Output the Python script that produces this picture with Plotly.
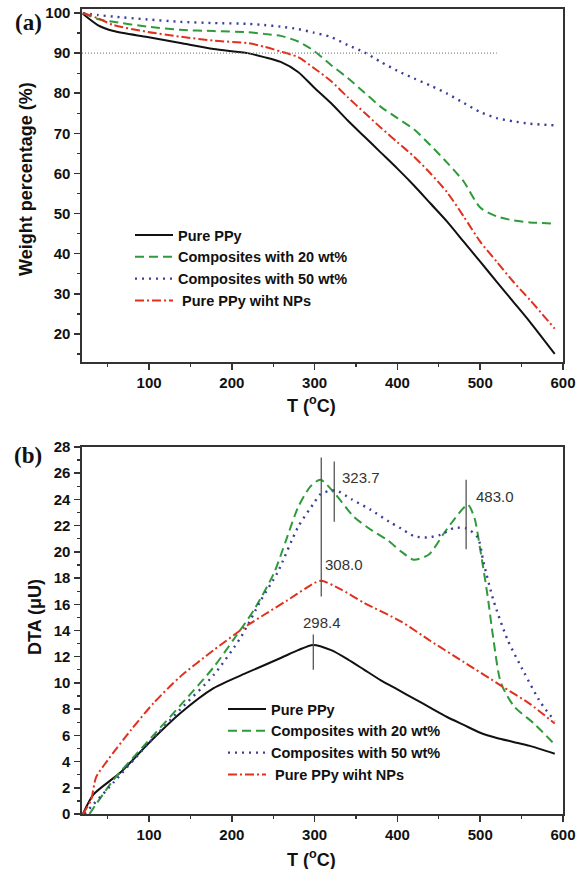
import plotly.graph_objects as go

# ---------------- data: (a) TGA ----------------
T_tga = [20, 38, 57, 98, 138, 178, 219, 239, 259, 280, 299, 320, 340, 360, 380,
         400, 420, 440, 460, 480, 500, 520, 540, 560, 590]
tga_pure = [99.8, 97.0, 95.5, 94.0, 92.5, 91.0, 90.0, 89.0, 87.8, 85.3, 81.5, 77.5,
            73.2, 69.2, 65.2, 61.2, 57.0, 52.5, 48.0, 43.0, 38.0, 33.0, 28.0, 23.0, 15.0]
tga_c20 = [100.0, 98.5, 97.8, 96.6, 95.8, 95.5, 95.2, 94.8, 94.3, 92.9, 90.6, 87.0,
           83.8, 80.2, 76.6, 73.8, 71.0, 67.0, 62.7, 58.0, 51.5, 49.3, 48.3, 47.8, 47.5]
tga_c50 = [100.0, 99.5, 99.1, 98.4, 97.8, 97.5, 97.3, 97.0, 96.6, 96.0, 95.1, 94.0,
           92.0, 90.2, 87.8, 85.6, 83.7, 81.9, 79.9, 77.6, 75.3, 73.8, 73.0, 72.4, 72.0]
tga_nps = [100.0, 98.7, 97.0, 95.3, 94.1, 93.1, 92.5, 91.6, 90.4, 89.0, 86.3, 83.0,
           79.0, 75.2, 71.4, 67.8, 64.2, 60.0, 55.3, 49.3, 43.0, 38.0, 33.0, 28.5, 21.3]
ref_level = 90
ref_end_T = 520

# ---------------- data: (b) DTA ----------------
T_pure = [20, 33, 66, 98, 138, 178, 219, 259, 280, 298, 320, 340, 360, 380, 400,
          420, 440, 460, 480, 500, 520, 540, 560, 590]
dta_pure = [0.0, 1.5, 3.2, 5.3, 7.7, 9.6, 10.8, 11.9, 12.5, 12.9, 12.5, 11.8, 11.0,
            10.2, 9.5, 8.8, 8.1, 7.4, 6.8, 6.2, 5.8, 5.5, 5.2, 4.6]
T_c20 = [28, 57, 98, 138, 178, 202, 227, 251, 265, 280, 295, 307, 325, 347, 370, 388,
         405, 420, 438, 456, 470, 485, 493, 500, 509, 516, 525, 541, 565, 590]
dta_c20 = [0.0, 2.6, 5.5, 8.3, 11.2, 13.3, 15.6, 18.4, 20.8, 23.4, 25.0, 25.5, 24.4,
           22.7, 21.6, 20.9, 20.0, 19.4, 19.8, 21.4, 22.6, 23.6, 22.6, 20.2, 16.6,
           13.3, 10.0, 8.2, 6.9, 5.3]
T_c50 = [22, 57, 98, 138, 178, 211, 235, 255, 280, 300, 307, 325, 345, 368, 390, 404,
         420, 436, 452, 468, 483, 497, 504, 516, 533, 553, 573, 590]
dta_c50 = [0.0, 2.4, 5.3, 8.0, 10.6, 13.5, 16.3, 18.4, 21.9, 23.8, 24.4, 24.7, 24.0,
           23.2, 22.3, 21.8, 21.2, 21.1, 21.3, 21.8, 21.8, 21.1, 19.2, 16.3, 13.3,
           10.8, 8.5, 7.1]
T_nps = [20, 30, 36, 50, 78, 106, 138, 178, 219, 239, 267, 299, 308, 330, 360, 404,
         440, 480, 525, 560, 590]
dta_nps = [0.0, 1.1, 2.8, 4.1, 6.4, 8.5, 10.5, 12.5, 14.4, 15.2, 16.3, 17.6, 17.8,
           17.2, 16.1, 14.7, 13.2, 11.6, 9.8, 8.4, 6.9]

# peak markers: temperature, line bottom, line top, label y
peak_T = [308.0, 323.7, 483.0, 298.4]
peak_labels = ["308.0", "323.7", "483.0", "298.4"]
peak_lo = [16.6, 22.3, 20.2, 11.0]
peak_hi = [27.2, 26.9, 25.5, 13.7]
peak_text_y = [19.0, 25.7, 24.2, 14.6]

names = ["Pure PPy", "Composites with 20 wt%", "Composites with 50 wt%",
         "\u00a0Pure PPy wiht NPs"]

# ---------------- styles ----------------
FONT = "Liberation Sans, Arial, sans-serif"
AX = "#333333"
styles = [
    dict(color="#111111", width=2.0, dash="solid"),
    dict(color="#2e9a3a", width=2.0, dash="9px,5px"),
    dict(color="#3b3d99", width=2.4, dash="2px,5px"),
    dict(color="#e0301e", width=2.0, dash="9px,3px,2px,3px"),
]

fig = go.Figure()

tga = [tga_pure, tga_c20, tga_c50, tga_nps]
for name, ys, st in zip(names, tga, styles):
    fig.add_trace(go.Scatter(x=T_tga, y=ys, mode="lines", name=name,
                             line=dict(shape="spline", smoothing=0.7, **st),
                             xaxis="x", yaxis="y", legend="legend"))

dta = [(T_pure, dta_pure), (T_c20, dta_c20), (T_c50, dta_c50), (T_nps, dta_nps)]
for name, (xs, ys), st in zip(names, dta, styles):
    fig.add_trace(go.Scatter(x=xs, y=ys, mode="lines", name=name,
                             line=dict(shape="spline", smoothing=0.7, **st),
                             xaxis="x2", yaxis="y2", legend="legend2"))

xdom = [82 / 585, 563 / 585]
top_dom = [1 - 362 / 869, 1 - 9 / 869]
bot_dom = [1 - 814 / 869, 1 - 447 / 869]

tickfont = dict(family=FONT, size=15, color="#111111", weight="bold")
common_x = dict(range=[19, 600], domain=xdom, tickvals=[100, 200, 300, 400, 500, 600],
                ticks="outside", ticklen=6, tickwidth=1.5, tickcolor=AX,
                minor=dict(dtick=50, tick0=0, ticks="outside", ticklen=3.5,
                           tickwidth=1.3, tickcolor=AX),
                showline=True, linecolor=AX, linewidth=1.6, mirror=True,
                showgrid=False, zeroline=False, tickfont=tickfont,
                ticklabelstandoff=0, automargin=False)
common_y = dict(ticks="outside", ticklen=6, tickwidth=1.5, tickcolor=AX,
                showline=True, linecolor=AX, linewidth=1.6, mirror=True,
                showgrid=False, zeroline=False, tickfont=tickfont,
                ticklabelstandoff=1, automargin=False)

legend_font = dict(family=FONT, size=14.5, color="#111111", weight="bold")
fig.update_layout(
    width=585, height=869, autosize=False,
    margin=dict(l=0, r=0, t=0, b=0, pad=0, autoexpand=False),
    paper_bgcolor="white", plot_bgcolor="white",
    showlegend=True,
    xaxis=dict(anchor="y", **common_x),
    xaxis2=dict(anchor="y2", **common_x),
    yaxis=dict(anchor="x", domain=top_dom, range=[13, 101], dtick=10, tick0=0,
               minor=dict(dtick=5, ticks="outside", ticklen=3.5, tickwidth=1.3,
                          tickcolor=AX),
               **common_y),
    yaxis2=dict(anchor="x2", domain=bot_dom, range=[0, 28], dtick=2, tick0=0,
                minor=dict(dtick=1, ticks="outside", ticklen=3.5, tickwidth=1.3,
                           tickcolor=AX),
                **common_y),
    legend=dict(x=130 / 585, y=1 - 219 / 869, xanchor="left", yanchor="top",
                bgcolor="rgba(0,0,0,0)", borderwidth=0, tracegroupgap=0,
                itemwidth=38, font=legend_font),
    legend2=dict(x=223 / 585, y=1 - 693 / 869, xanchor="left", yanchor="top",
                 bgcolor="rgba(0,0,0,0)", borderwidth=0, tracegroupgap=0,
                 itemwidth=38, font=legend_font),
)

# reference line at 90 %
fig.add_shape(type="line", xref="x", yref="y", x0=19, x1=ref_end_T,
              y0=ref_level, y1=ref_level,
              line=dict(color="#888888", width=1.2, dash="1px,2px"))

# peak marker lines and labels
shifts = [(2, "left"), (6, "left"), (8, "left"), (9, "center")]
for T, lo, hi, ty, lab, (xs, xa) in zip(peak_T, peak_lo, peak_hi, peak_text_y,
                                        peak_labels, shifts):
    fig.add_shape(type="line", xref="x2", yref="y2", x0=T, x1=T, y0=lo, y1=hi,
                  line=dict(color="#555555", width=1.3))
    fig.add_annotation(x=T, y=ty, xref="x2", yref="y2", text=lab, showarrow=False,
                       xanchor=xa, yanchor="middle", xshift=xs,
                       font=dict(family=FONT, size=15, color="#333333"))

title_font = dict(family=FONT, size=18, color="#111111", weight="bold")


def paper_text(px, py, text, font, angle=0):
    fig.add_annotation(x=px / 585, y=1 - py / 869, xref="paper", yref="paper",
                       text=text, textangle=angle, showarrow=False,
                       xanchor="center", yanchor="middle", font=font)


# axis titles
paper_text(26, 179, "Weight percentage (%)", title_font, -90)
paper_text(35, 617, "DTA (\u03bcU)", title_font, -90)
paper_text(311, 405, "T (<sup>o</sup>C)", title_font)
paper_text(311, 858, "T (<sup>o</sup>C)", title_font)

# panel labels
panel_font = dict(family="Liberation Serif, Times New Roman, serif", size=23,
                  color="#111111", weight="bold")
paper_text(28, 22, "(a)", panel_font)
paper_text(28, 455, "(b)", panel_font)

fig.write_html("out.html",
               config={"displayModeBar": False, "staticPlot": True},
               post_script="document.body.style.margin='0';"
                           "document.body.style.overflow='hidden';")
